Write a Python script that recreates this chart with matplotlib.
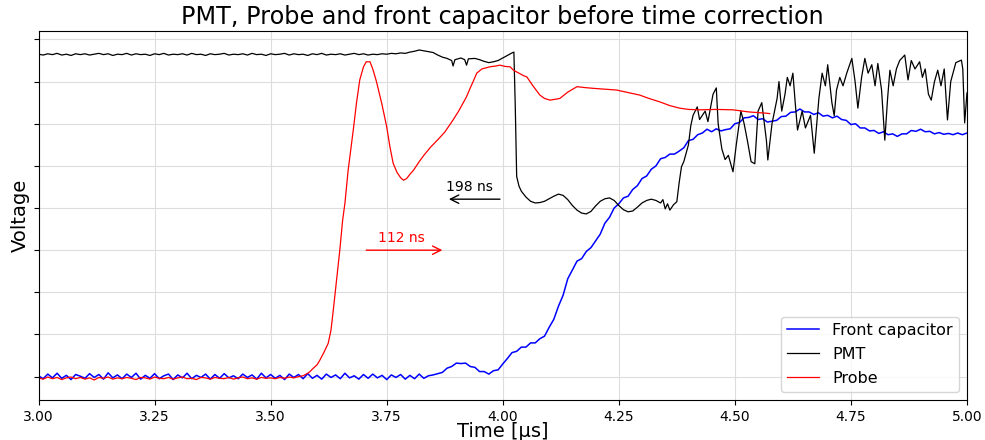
import numpy as np
import matplotlib
matplotlib.use("Agg")
import matplotlib.pyplot as plt

# ---- Front capacitor (blue), sampled every 0.01 us from 3.00 to 5.00 ----
fc_t0, fc_t1, fc_dt = 3.00, 5.00, 0.01
fc_v = [0.02,-0.05,0.06,-0.03,0.08,-0.04,0.03,-0.07,0.05,0.01,
        -0.04,0.07,-0.02,0.05,-0.06,0.09,-0.03,0.04,-0.05,0.06,
        -0.02,0.08,-0.06,0.03,-0.04,0.07,-0.05,0.02,0.06,-0.07,
        0.04,-0.03,0.08,-0.05,0.03,-0.02,0.06,-0.06,0.05,-0.04,
        0.07,-0.03,0.02,-0.05,0.06,-0.02,0.04,-0.06,0.08,-0.03,
        0.05,-0.04,0.03,-0.07,0.06,-0.02,0.05,-0.05,0.07,-0.04,
        0.03,-0.06,0.06,-0.02,0.04,-0.05,0.08,-0.03,0.02,-0.06,
        0.05,-0.04,0.06,-0.03,0.03,-0.07,0.04,-0.02,0.05,-0.06,
        0.03,-0.05,0.06,-0.04,0.02,0.04,
        0.07,0.10,0.20,0.24,0.32,0.31,0.32,0.24,0.22,0.12,
        0.12,0.06,0.14,0.16,0.30,0.43,0.57,0.60,0.70,0.70,
        0.80,0.80,0.90,0.96,1.17,1.36,1.67,1.93,2.32,2.53,
        2.74,2.80,2.97,3.06,3.22,3.38,3.64,3.78,4.00,4.10,
        4.24,4.28,4.44,4.53,4.70,4.76,4.92,5.00,5.17,5.20,
        5.28,5.28,5.35,5.43,5.60,5.63,5.74,5.78,5.87,5.81,
        5.88,5.83,5.86,5.88,6.00,6.03,6.14,6.15,6.19,6.10,
        6.12,6.04,6.06,6.08,6.17,6.18,6.27,6.28,6.35,6.28,
        6.28,6.22,6.26,6.18,6.20,6.14,6.18,6.10,6.08,5.98,
        6.00,5.90,5.90,5.83,5.84,5.77,5.81,5.74,5.76,5.70,
        5.76,5.76,5.84,5.82,5.87,5.81,5.82,5.76,5.79,5.75,
        5.77,5.74,5.78,5.74,5.78,5.71,5.72,5.66,5.68]
fc_t = np.round(fc_t0 + fc_dt * np.arange(len(fc_v)), 4)

# ---- PMT (black) ----
pmt_base_v = [7.65,7.63,7.66,7.64,7.67,7.63,7.65,7.62,7.66,7.64,
              7.66,7.63,7.65,7.67,7.64,7.66,7.62,7.65,7.64,7.67,
              7.63,7.66,7.64,7.65,7.62,7.66,7.64,7.67,7.63,7.65,
              7.64,7.66,7.63,7.67,7.64,7.65,7.62,7.66,7.64,7.65,
              7.67,7.63,7.65,7.64,7.66,7.63,7.67,7.64,7.65,7.62,
              7.66,7.64,7.65,7.67,7.63,7.66,7.64,7.65,7.62,7.66,
              7.64,7.67,7.63,7.65,7.64,7.66,7.63,7.65,7.67,7.64,
              7.66,7.63,7.65,7.64,7.66,7.65,7.67,7.66,7.68,7.67,7.70]
pmt_base_t = np.round(3.00 + 0.01 * np.arange(len(pmt_base_v)), 4)
pmt_tail_t = [3.81,3.82,3.83,3.84,3.85,3.86,3.87,3.88,3.89,3.893,3.897,3.91,3.918,3.922,3.926,
              3.94,3.95,3.96,3.97,3.98,3.99,4.00,4.01,4.02,4.024,4.027,4.030,4.035,4.04,4.05,
              4.06,4.07,4.08,4.09,4.10,4.11,4.12,4.13,4.14,4.15,4.16,4.17,4.18,4.19,4.20,
              4.21,4.22,4.23,4.24,4.25,4.26,4.27,4.28,4.29,4.30,4.31,4.32,4.33,4.34,4.345,
              4.35,4.355,4.36,4.368,4.375,4.38,4.385,4.39,4.40,4.405,4.41,4.419,4.424,4.436,4.442,
              4.453,4.46,4.464,4.472,4.479,4.486,4.496,4.503,4.513,4.52,4.527,4.535,4.543,4.55,4.558,
              4.568,4.571,4.58,4.591,4.595,4.601,4.608,4.613,4.619,4.625,4.63,4.635,4.645,4.652,4.663,
              4.671,4.681,4.688,4.695,4.70,4.709,4.714,4.719,4.726,4.733,4.741,4.752,4.759,4.765,4.773,
              4.78,4.787,4.795,4.802,4.808,4.816,4.823,4.829,4.834,4.841,4.848,4.855,4.866,4.873,4.88,
              4.888,4.898,4.904,4.91,4.917,4.923,4.93,4.937,4.944,4.951,4.958,4.965,4.976,4.988,4.991,
              4.995,5.0]
pmt_tail_v = [7.72,7.75,7.73,7.71,7.69,7.63,7.58,7.55,7.50,7.37,7.52,7.56,7.52,7.39,7.54,
              7.55,7.52,7.48,7.45,7.47,7.50,7.56,7.62,7.68,7.70,6.40,4.75,4.52,4.40,4.26,
              4.16,4.12,4.13,4.16,4.22,4.28,4.33,4.30,4.20,4.06,3.95,3.88,3.86,3.92,4.05,
              4.16,4.22,4.24,4.18,4.06,3.96,3.91,3.93,4.02,4.12,4.18,4.21,4.18,4.12,4.20,
              3.98,4.10,3.95,4.08,4.15,4.60,4.98,5.10,5.50,5.95,6.20,6.40,6.10,6.30,6.05,
              6.70,6.85,6.00,5.40,5.15,5.25,4.86,5.50,6.30,6.00,5.60,5.10,5.05,6.30,6.50,
              5.60,5.14,6.00,6.60,7.00,6.30,6.70,7.10,6.90,7.20,6.50,5.85,6.30,5.90,6.20,
              5.30,6.60,7.20,6.90,7.40,6.50,6.19,6.80,7.10,6.90,7.20,7.55,7.00,6.37,7.10,
              7.55,7.20,7.40,6.90,7.43,6.80,5.61,6.60,7.27,6.90,7.30,7.50,7.63,7.04,7.50,
              7.30,7.47,7.10,7.30,6.70,6.56,7.00,7.27,6.90,7.30,6.09,7.00,7.45,7.51,7.30,
              6.02,6.73]
pmt_t = np.concatenate([pmt_base_t, pmt_tail_t])
pmt_v = np.concatenate([pmt_base_v, pmt_tail_v])

# ---- Probe (red) ----
probe_base_v = [-0.03,-0.06,-0.01,-0.05,-0.02,-0.07,-0.03,-0.01,-0.05,-0.02,
                -0.06,-0.03,-0.08,-0.02,-0.04,-0.01,-0.06,-0.03,-0.05,-0.02,
                -0.04,-0.07,-0.02,-0.03,-0.06,-0.01,-0.04,-0.05,-0.02,-0.06,
                -0.03,-0.01,-0.05,-0.04,-0.07,-0.02,-0.03,-0.06,-0.02,-0.04,
                -0.05,-0.02,-0.06,-0.03,-0.01,-0.05,-0.03,-0.06,-0.02,-0.04,
                -0.03,-0.05,-0.02,-0.04,-0.01,-0.03,0.00]
probe_base_t = np.round(3.00 + 0.01 * np.arange(len(probe_base_v)), 4)
probe_tail_t = [3.57,3.58,3.585,3.59,3.60,3.606,3.615,3.624,3.63,3.635,3.642,3.649,3.655,3.660,3.667,
                3.678,3.685,3.692,3.70,3.706,3.714,3.72,3.728,3.74,3.75,3.757,3.764,3.772,3.78,3.786,
                3.793,3.80,3.808,3.82,3.83,3.845,3.86,3.875,3.893,3.905,3.915,3.922,3.93,3.937,3.944,
                3.955,3.972,3.985,3.994,4.005,4.016,4.023,4.035,4.045,4.052,4.065,4.08,4.09,4.102,4.112,
                4.123,4.14,4.16,4.175,4.195,4.22,4.245,4.27,4.295,4.315,4.338,4.36,4.381,4.40,4.424,
                4.46,4.496,4.53,4.568,4.575]
probe_tail_v = [0.02,0.08,0.12,0.18,0.28,0.39,0.58,0.79,1.10,1.58,2.30,3.00,3.70,4.11,4.90,
                5.85,6.50,7.04,7.35,7.47,7.47,7.30,7.00,6.45,5.93,5.45,5.06,4.85,4.72,4.66,
                4.70,4.80,4.90,5.10,5.25,5.45,5.62,5.80,6.09,6.30,6.50,6.64,6.85,7.02,7.20,
                7.30,7.35,7.37,7.39,7.36,7.35,7.27,7.20,7.14,7.11,6.90,6.68,6.60,6.56,6.58,
                6.60,6.75,6.88,6.86,6.84,6.82,6.80,6.74,6.68,6.60,6.52,6.43,6.37,6.34,6.33,
                6.34,6.33,6.28,6.25,6.24]
probe_t = np.concatenate([probe_base_t, probe_tail_t])
probe_v = np.concatenate([probe_base_v, probe_tail_v])

fig = plt.figure(figsize=(9.85, 4.4), dpi=100)
ax = fig.add_axes([0.0391, 0.0909, 0.9426, 0.8386])

ax.plot(fc_t, fc_v, color="blue", lw=1.1, label="Front capacitor")
ax.plot(pmt_t, pmt_v, color="black", lw=0.9, label="PMT")
ax.plot(probe_t, probe_v, color="red", lw=0.9, label="Probe")

ax.annotate("", xy=(3.878, 4.21), xytext=(4.0, 4.21),
            arrowprops=dict(arrowstyle="->", color="black", lw=1.0, mutation_scale=15))
ax.text(3.877, 4.51, "198 ns", color="black", fontsize=10, va="center", ha="left")
ax.annotate("", xy=(3.876, 3.0), xytext=(3.70, 3.0),
            arrowprops=dict(arrowstyle="->", color="red", lw=1.0, mutation_scale=15))
ax.text(3.732, 3.30, "112 ns", color="red", fontsize=10, va="center", ha="left")

ax.set_xlim(3.0, 5.0)
ax.set_ylim(-0.555, 8.2)
ax.set_xticks([3.0, 3.25, 3.5, 3.75, 4.0, 4.25, 4.5, 4.75, 5.0])
ax.set_xticklabels(["3.00", "3.25", "3.50", "3.75", "4.00", "4.25", "4.50", "4.75", "5.00"])
ax.set_yticks(np.arange(0, 9))
ax.set_yticklabels([])
ax.tick_params(labelsize=10)
ax.grid(True, color="#dddddd", lw=0.8)
ax.set_xlabel("Time [µs]", fontsize=14, labelpad=-1)
ax.set_ylabel("Voltage", fontsize=14, labelpad=-1)
ax.set_title("PMT, Probe and front capacitor before time correction", fontsize=17.2, pad=5)
ax.legend(loc="lower right", fontsize=11.5, framealpha=0.8, labelspacing=0.55,
          borderaxespad=0.5)

fig.savefig("out.png", dpi=100)
